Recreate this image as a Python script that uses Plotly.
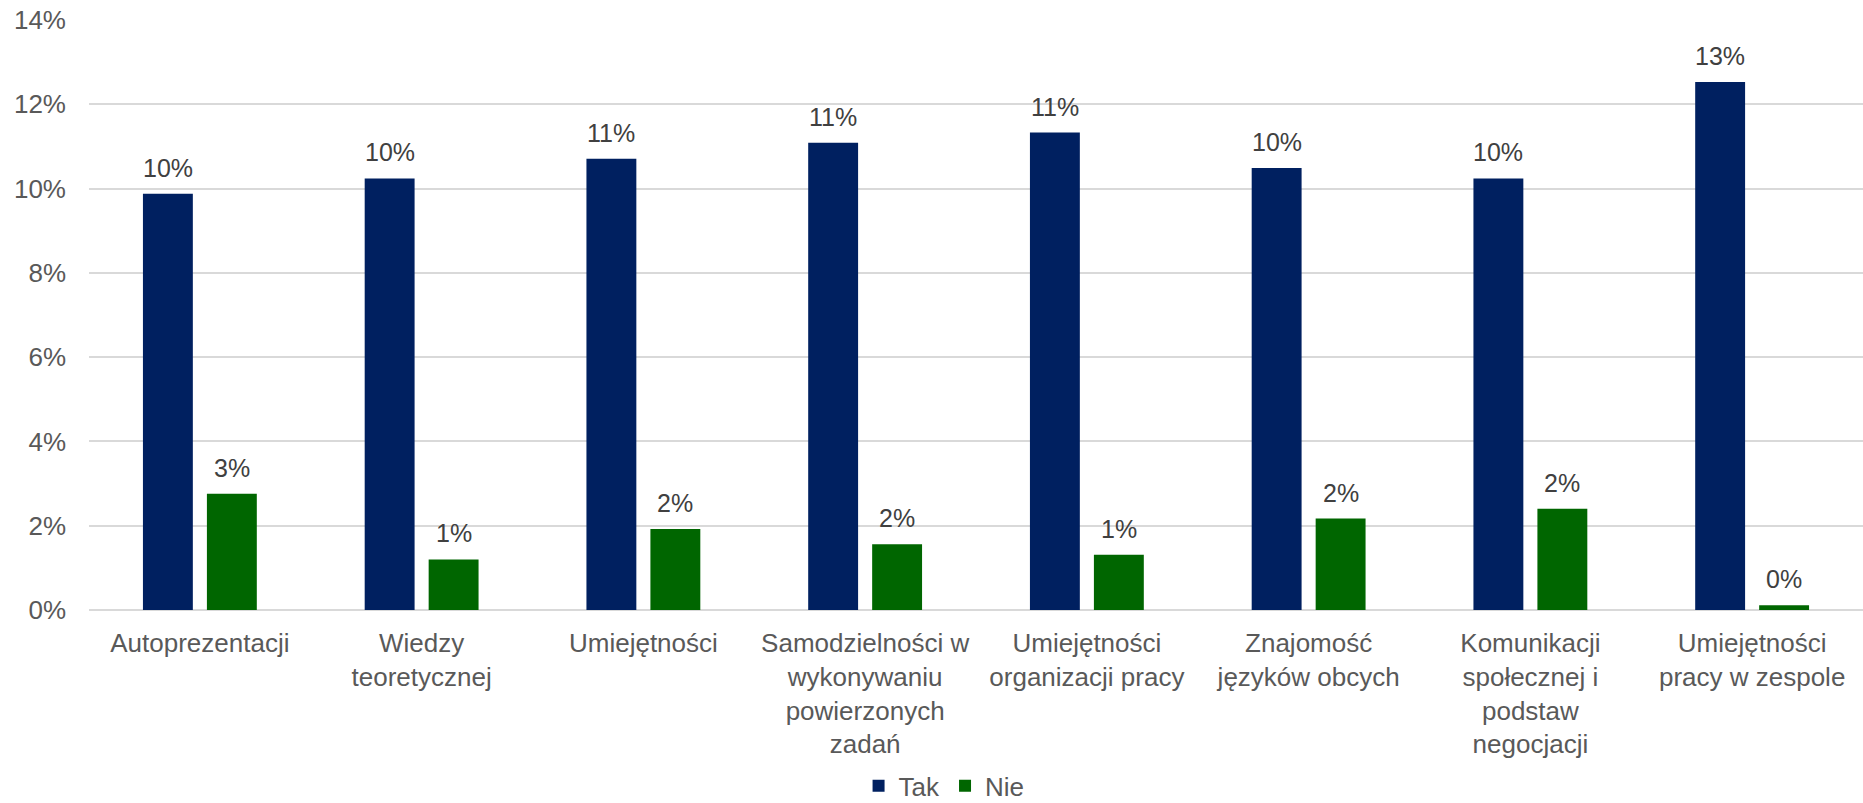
import plotly.graph_objects as go

categories = [
    "Autoprezentacji",
    "Wiedzy<br>teoretycznej",
    "Umiejętności",
    "Samodzielności w<br>wykonywaniu<br>powierzonych<br>zadań",
    "Umiejętności<br>organizacji pracy",
    "Znajomość<br>języków obcych",
    "Komunikacji<br>społecznej i<br>podstaw<br>negocjacji",
    "Umiejętności<br>pracy w zespole",
]
tak = [0.0988, 0.1024, 0.1071, 0.1109, 0.1133, 0.1049, 0.1024, 0.1253]
nie = [0.0276, 0.0120, 0.0192, 0.0156, 0.0131, 0.0217, 0.0240, 0.0011]
y_ticks = [0, 0.02, 0.04, 0.06, 0.08, 0.10, 0.12, 0.14]

FONT = "Liberation Sans, Arial, sans-serif"
TXT = "#595959"

fig = go.Figure()
fig.add_trace(go.Bar(name="Tak", x=categories, y=tak, marker_color="#002060",
                     marker_line_width=0))
fig.add_trace(go.Bar(name="Nie", x=categories, y=nie, marker_color="#006600",
                     marker_line_width=0))

for series, shift in ((tak, -32), (nie, 32)):
    for c, v in zip(categories, series):
        fig.add_annotation(x=c, y=v, text=f"{round(v*100):.0f}%", showarrow=False,
                           xshift=shift, yshift=10, yanchor="bottom",
                           font=dict(family=FONT, size=25, color="#404040"))

fig.update_layout(
    width=1863, height=803,
    margin=dict(l=89, r=0, t=20, b=193, autoexpand=False),
    paper_bgcolor="white", plot_bgcolor="white",
    barmode="group", bargap=0.423, bargroupgap=0.22,
    font=dict(family=FONT, size=26, color=TXT),
    showlegend=True,
    legend=dict(orientation="h", x=0.482, xanchor="center", y=-0.298, yanchor="middle",
                font=dict(family=FONT, size=26, color=TXT), itemwidth=30,
                tracegroupgap=0, traceorder="normal"),
)
fig.update_yaxes(range=[0, 0.14], tickvals=y_ticks, tickformat=".0%", automargin=False,
                 showgrid=True, gridcolor="#d9d9d9", gridwidth=2,
                 zeroline=True, zerolinecolor="#d9d9d9", zerolinewidth=2,
                 showline=False, ticks="", ticklabelstandoff=22,
                 tickfont=dict(family=FONT, size=26, color=TXT))
fig.update_xaxes(showgrid=False, showline=False, ticks="", ticklabelstandoff=15, automargin=False,
                 tickfont=dict(family=FONT, size=26, color=TXT))

fig.write_html("out.html", config={"displayModeBar": False},
               post_script="document.body.style.margin='0';document.body.style.overflow='hidden';")
